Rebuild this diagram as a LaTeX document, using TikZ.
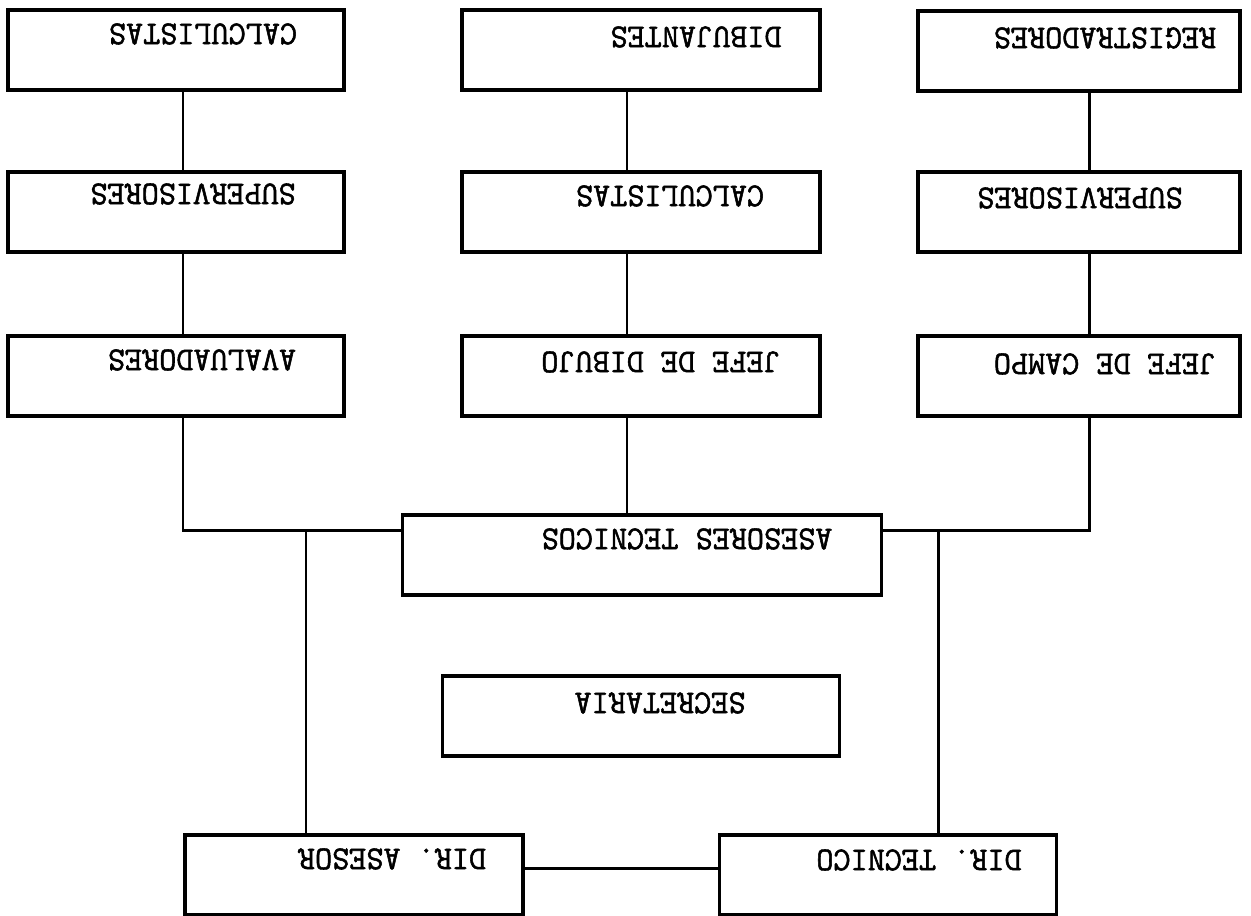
\documentclass[tikz,border=0pt]{standalone}
\usepackage{fontspec}
\newfontfamily\typewfont[FakeBold=1.6]{Latin Modern Mono}

\begin{document}
\begin{tikzpicture}[
  x=0.2mm, y=-0.2mm,
  box/.style={draw, line width=1.9pt, minimum height=16mm, inner sep=0pt},
  boxL/.style={box, minimum width=67.2mm},
  boxM/.style={box, minimum width=71.6mm},
  boxR/.style={box, minimum width=64.4mm},
  txt/.style={rotate=180, inner sep=0pt, font=\typewfont\fontsize{18.9}{20}\selectfont},
  link/.style={line width=1.7pt},
  thinlink/.style={line width=1.1pt}
]
\useasboundingbox (0,0) rectangle (1251,916);

% upside-down chart, left column
\node[boxL, label={[shift={(27,-16)}, txt]center:CALCULISTAS}] (calcL) at (176,50) {};
\node[boxL, label={[shift={(17,-18)}, txt]center:SUPERVISORES}] (supL) at (176,212) {};
\node[boxL, label={[shift={(26,-16)}, txt]center:AVALUADORES}] (avaL) at (176,376) {};

% middle column
\node[boxM, label={[shift={(55,-13)}, txt]center:DIBUJANTES}] (dibM) at (641,50) {};
\node[boxM, label={[shift={(29,-16)}, txt]center:CALCULISTAS}] (calcM) at (641,212) {};
\node[boxM, label={[shift={(20,-14)}, txt]center:JEFE DE DIBUJO}] (jefeM) at (641,376) {};

% right column
\node[boxR, label={[shift={(26,-13)}, txt]center:REGISTRADORES}] (regR) at (1079,51) {};
\node[boxR, label={[shift={(1,-14)}, txt]center:SUPERVISORES}] (supR) at (1079,212) {};
\node[boxR, label={[shift={(26,-12)}, txt]center:JEFE DE CAMPO}] (jefeR) at (1079,376) {};

% centre and bottom
\node[box, minimum width=95.8mm, label={[shift={(45,-16)}, txt]center:ASESORES TECNICOS}] (asesor) at (642,555) {};
\node[box, minimum width=79.4mm, label={[shift={(19,-13)}, txt]center:SECRETARIA}] (secre) at (641,716) {};
\node[box, minimum width=67.6mm, label={[shift={(38,-16)}, txt]center:DIR. ASESOR}] (dirA) at (354,875) {};
\node[box, minimum width=67.4mm, label={[shift={(31,-15)}, txt]center:DIR. TECNICO}] (dirT) at (888,875) {};

\coordinate (colL) at (183,0);
\coordinate (colM) at (627,0);
\coordinate (colR) at (1089,0);
\coordinate (bus) at (0,530);
\coordinate (tapL) at (306,530);
\coordinate (tapR) at (938,530);
\coordinate (dirY) at (0,868);

\draw[link] (calcL.south -| colL) -- (supL.north -| colL);
\draw[link] (supL.south -| colL) -- (avaL.north -| colL);
\draw[link] (avaL.south -| colL) |- (asesor.west |- bus);
\draw[thinlink] (dibM.south -| colM) -- (calcM.north -| colM);
\draw[thinlink] (calcM.south -| colM) -- (jefeM.north -| colM);
\draw[thinlink] (jefeM.south -| colM) -- (asesor.north -| colM);
\draw[link] (regR.south -| colR) -- (supR.north -| colR);
\draw[link] (supR.south -| colR) -- (jefeR.north -| colR);
\draw[link] (jefeR.south -| colR) |- (asesor.east |- bus);
\draw[link] (tapL) -- (dirA.north -| tapL);
\draw[link] (tapR) -- (dirT.north -| tapR);
\draw[link] (dirA.east |- dirY) -- (dirT.west |- dirY);
\end{tikzpicture}
\end{document}
